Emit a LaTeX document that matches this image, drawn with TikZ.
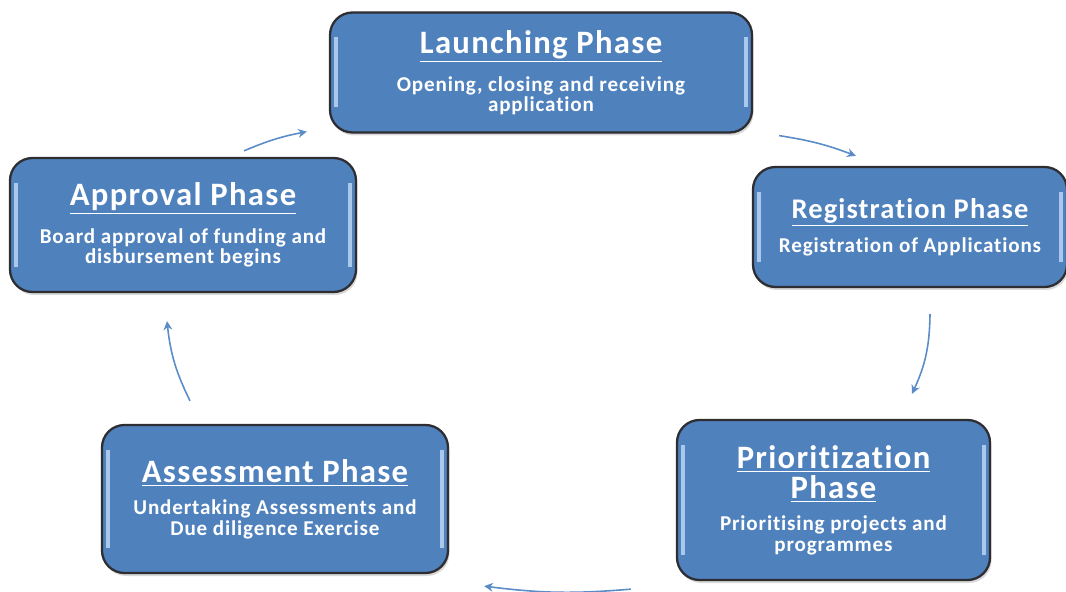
\documentclass[tikz,border=0pt]{standalone}
\usepackage{fontspec}
\setmainfont{Carlito}[Ligatures=NoCommon]
\newfontfamily\bodyfont{Carlito}[LetterSpace=4, Ligatures=NoCommon]
\usepackage{xcolor}
\definecolor{phaseblue}{RGB}{79,129,189}
\definecolor{phaseedge}{RGB}{45,45,50}
\definecolor{phaseglow}{RGB}{170,200,235}
\definecolor{flowblue}{RGB}{90,140,200}
\usetikzlibrary{arrows.meta, shadows}

\newcommand{\phasetitle}[2][18.6]{{\fontsize{#1}{#1}\selectfont\bfseries\underline{#2}}}

\begin{document}
\begin{tikzpicture}[
  phase/.style={draw=phaseedge, line width=1.3pt, fill=phaseblue, rounded corners=0.45cm,
    text=white, align=center, font=\bodyfont\bfseries\fontsize{12}{11.5}\selectfont,
    drop shadow={opacity=0.3, shadow xshift=0.03cm, shadow yshift=-0.06cm},
    path picture={
      \draw[phaseglow, line width=1.8pt]
        ([xshift=0.12cm,yshift=-0.5cm]path picture bounding box.north west) --
        ([xshift=0.12cm,yshift=0.5cm]path picture bounding box.south west);
      \draw[phaseglow, line width=1.8pt]
        ([xshift=-0.12cm,yshift=-0.5cm]path picture bounding box.north east) --
        ([xshift=-0.12cm,yshift=0.5cm]path picture bounding box.south east);
    }},
  flow/.style={flowblue, line width=0.9pt, -{Stealth[length=5pt,width=5pt]}}
]
\useasboundingbox (0,0) rectangle (21.32,-11.84);

% --- the five phases ---
\node[phase, minimum width=8.44cm, minimum height=2.4cm] (launch) at (10.82,-1.45)
  {\phasetitle{Launching Phase}\\[7pt] Opening, closing and receiving\\ application};
\node[phase, minimum width=6.28cm, minimum height=2.4cm] (reg) at (18.2,-4.54)
  {\phasetitle[16.2]{Registration Phase}\\[5pt] Registration of Applications};
\node[phase, minimum width=6.26cm, minimum height=3.2cm] (prior) at (16.67,-10.0)
  {\phasetitle{Prioritization}\\[1pt] \phasetitle{Phase}\\[7pt] Prioritising projects and\\ programmes};
\node[phase, minimum width=6.92cm, minimum height=2.96cm] (assess) at (5.5,-9.98)
  {\phasetitle{Assessment Phase}\\[7pt] Undertaking Assessments and\\ Due diligence Exercise};
\node[phase, minimum width=6.92cm, minimum height=2.68cm] (approval) at (3.66,-4.5)
  {\phasetitle{Approval Phase}\\[7pt] Board approval of funding and\\ disbursement begins};

% --- cycle arrows ---
\draw[flow] ([shift={(0.52,-0.04)}]launch.south east) to[bend left=6] ([shift={(2.08,0.2)}]reg.north west);
\draw[flow] ([shift={(0.4,-0.52)}]reg.south) to[bend left=12] ([shift={(1.57,0.5)}]prior.north);
\draw[flow] ([shift={(-0.9,-0.16)}]prior.south west) to[bend left=6] ([shift={(0.7,-0.24)}]assess.south east);
\draw[flow] ([shift={(-1.7,0.46)}]assess.north) to[bend left=10] ([shift={(-0.32,-0.56)}]approval.south);
\draw[flow] ([shift={(1.22,0.12)}]approval.north) to[bend left=6] ([shift={(-0.44,0.04)}]launch.south west);

\end{tikzpicture}
\end{document}
